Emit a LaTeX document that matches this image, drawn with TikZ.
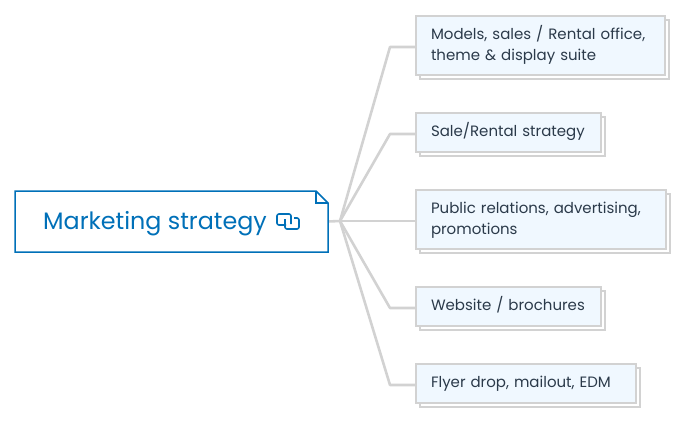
\documentclass[tikz,border=0pt]{standalone}
\usepackage{fontspec}
\setmainfont{Poppins}
\usetikzlibrary{shadows}
\definecolor{rootblue}{HTML}{0070B8}
\definecolor{leaffill}{HTML}{F0F8FF}
\definecolor{leafline}{HTML}{D2D2D2}
\definecolor{leaftext}{HTML}{2B3A4A}
\tikzset{
  leafbox/.style={draw=leafline,line width=1.5pt,fill=leaffill,anchor=north west,
    text=leaftext,align=left,inner xsep=15pt,inner ysep=0pt,outer sep=0pt,
    font=\fontsize{15}{21}\selectfont,
    execute at begin node=\strut,execute at end node=\strut,
    copy shadow={shadow xshift=4pt,shadow yshift=-4pt,draw=leafline,fill=white}},
  branch/.style={draw=leafline,line width=2.6pt,line join=round},
  rootline/.style={draw=rootblue,line width=1.5pt},
}
\begin{document}
\begin{tikzpicture}[x=1pt,y=-1pt]
\useasboundingbox (0,0) rectangle (690,422);
% Zentrum
\node[anchor=north west,minimum width=313pt,minimum height=61pt,inner sep=0pt,outer sep=0pt] (root) at (15,191) {};
\node[anchor=base west,text=rootblue,inner sep=0pt,font=\fontsize{23.8}{26}\selectfont] (roottext) at (43,229) {Marketing strategy};
\coordinate (hub) at (340,221);
% Zweige
\node[leafbox,minimum height=59pt,text width=219pt] (models) at (416,16) {Models, sales / Rental office,\\theme \& display suite};
\node[leafbox,minimum height=39pt,text width=155pt] (sale) at (416,113) {Sale/Rental strategy};
\node[leafbox,minimum height=59pt,text width=220pt] (public) at (416,190) {Public relations, advertising,\\promotions};
\node[leafbox,minimum height=39pt,text width=155pt] (website) at (416,287) {Website / brochures};
\node[leafbox,minimum height=39pt,text width=190pt] (flyer) at (416,364) {Flyer drop, mailout, EDM};
\draw[branch] (root.east) -- (hub);
\foreach \n in {models,sale,public,website,flyer}
\draw[branch] (hub) -- ([xshift=-26pt,yshift=-1.5pt]\n.west) -- ([yshift=-1.5pt]\n.west);
% Rahmen mit Eselsohr
\draw[rootline] (root.north west) -- ([xshift=-12pt]root.north east) -- ([yshift=-12pt]root.north east) -- (root.south east) -- (root.south west) -- cycle;
\draw[rootline] ([xshift=-12pt]root.north east) -- ([xshift=-12pt,yshift=-12pt]root.north east) -- ([yshift=-12pt]root.north east);
% Symbol
\draw[rootline,rounded corners=2pt,line width=1.6pt] (286,225) -- (277,225) -- (277,214) -- (291,214) -- (291,224);
\draw[rootline,rounded corners=2pt,line width=1.6pt] (285,219) -- (285,229) -- (299,229) -- (299,218) -- (294,218);
\end{tikzpicture}
\end{document}
